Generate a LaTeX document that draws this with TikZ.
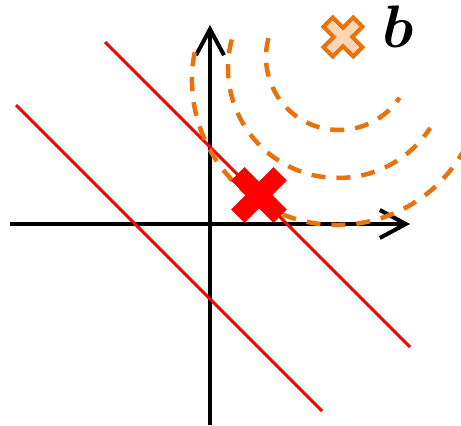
\documentclass[tikz,border=0pt]{standalone}
\usepackage{amsmath,bm}
\usetikzlibrary{arrows.meta}
\definecolor{myorange}{RGB}{232,114,12}
\definecolor{mypeach}{RGB}{253,214,181}
\begin{document}
\begin{tikzpicture}[x=1pt,y=-1pt,
  axis/.style={line width=4pt,-{Straight Barb[length=26pt,width=28pt]}},
  redline/.style={red,line width=3pt},
  contour/.style={myorange,line width=4.5pt,dash pattern=on 14pt off 11pt},
  crossshape/.style={line join=miter}]
\useasboundingbox (0,0) rectangle (461,426);
% axes
\coordinate (xs) at (10,224);
\coordinate (xe) at (410,224);
\coordinate (ys) at (210,425);
\coordinate (ye) at (210,25);
\draw[axis] (xs) -- (xe);
\draw[axis] (ys) -- (ye);
% red lines
\coordinate (l1s) at (16,105);
\coordinate (l1e) at (322,411);
\coordinate (l2s) at (105,42);
\coordinate (l2e) at (410,347);
\draw[redline] (l1s) -- (l1e);
\draw[redline] (l2s) -- (l2e);
% contour arcs
\coordinate (c1) at (339,57);
\coordinate (c2) at (338,68);
\coordinate (c3) at (337,80);
\draw[contour] (c1) ++(165:73pt) arc[start angle=165,end angle=326,radius=73pt];
\draw[contour] (c2) ++(165:110pt) arc[start angle=165,end angle=327,radius=110pt];
\draw[contour] (c3) ++(169:145pt) arc[start angle=169,end angle=335,radius=145pt];
% red cross
\coordinate (rx) at (259,195);
\fill[red,shift={(rx)},rotate=45]
  (9.5,9.5) -- (9.5,30) -- (-9.5,30) -- (-9.5,9.5) -- (-30,9.5) -- (-30,-9.5)
  -- (-9.5,-9.5) -- (-9.5,-30) -- (9.5,-30) -- (9.5,-9.5) -- (30,-9.5) -- (30,9.5) -- cycle;
% orange marker b
\coordinate (bx) at (343,37);
\filldraw[fill=mypeach,draw=myorange,line width=4pt,crossshape,shift={(bx)},rotate=45]
  (6.5,6.5) -- (6.5,21) -- (-6.5,21) -- (-6.5,6.5) -- (-21,6.5) -- (-21,-6.5)
  -- (-6.5,-6.5) -- (-6.5,-21) -- (6.5,-21) -- (6.5,-6.5) -- (21,-6.5) -- (21,6.5) -- cycle;
\node[anchor=base,inner sep=0pt] (blabel) at (398,47) {\scalebox{6}{$\boldsymbol{b}$}};
\end{tikzpicture}
\end{document}
